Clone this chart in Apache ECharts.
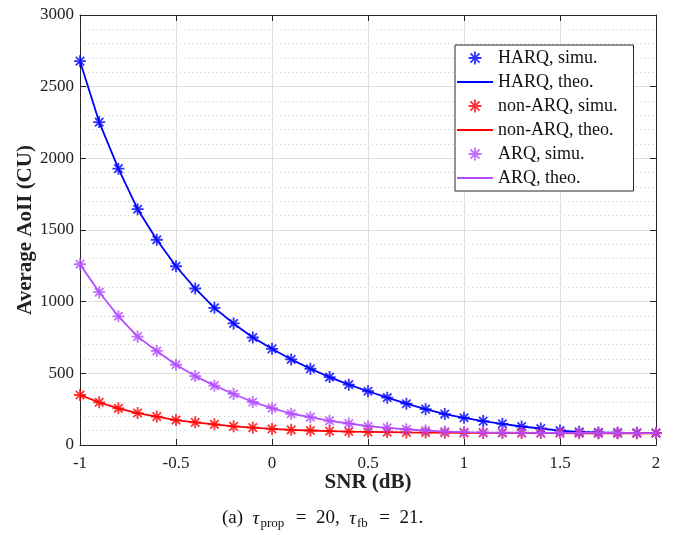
<!DOCTYPE html>
<html>
<head>
<meta charset="utf-8">
<script src="https://cdn.jsdelivr.net/npm/echarts@6/dist/echarts.min.js"></script>
<style>html,body{margin:0;padding:0;background:#fff;}#c{width:677px;height:535px;}</style>
</head>
<body>
<div id="c"></div>
<script>
const snr = [-1,-0.9,-0.8,-0.7,-0.6,-0.5,-0.4,-0.3,-0.2,-0.1,0,0.1,0.2,0.3,0.4,0.5,0.6,0.7,0.8,0.9,1,1.1,1.2,1.3,1.4,1.5,1.6,1.7,1.8,1.9,2];
const harq = [2678,2253,1928,1645,1432,1247,1092,957,848,750,671,597,532,474,421,375,330,288,250,216,190,167,148,129,115,101,92,88,86,85,84];
const nonArq = [349,298,256,223,198,174,158,144,130,121,112,106,101,97,94,92,90,88,87,86,85,84,84,83,83,83,82,82,82,82,82];
const arq = [1261,1066,898,756,656,560,481,414,356,300,257,218,194,169,150,131,120,110,101,94,90,88,87,86,85,85,84,84,84,83,83];
const seriesNames = ['HARQ','non-ARQ','ARQ'];
const seriesColors = ['#0000ff','#ff0000','#b34dff'];
const xTicks = {min:-1, max:2, step:0.5};
const yTicks = {min:0, max:3000, step:500};

const FONT = '"Liberation Serif", "Times New Roman", serif';
const AX = '#262626';
const star = 'path://M0,-10L0,10M-10,0L10,0M-7,-7L7,7M-7,7L7,-7';
const values = [harq, nonArq, arq];
const series = [];
const legendData = [];
values.forEach((v, i) => {
  const pts = snr.map((x, k) => [x, v[k]]);
  const c = seriesColors[i];
  series.push({
    name: seriesNames[i] + ', simu.', type: 'scatter', data: pts,
    symbol: star, symbolSize: 12, symbolKeepAspect: true,
    itemStyle: {color: c, borderColor: c, borderWidth: 1.8},
    emphasis: {disabled: true}, z: 3 + i * 2
  });
  series.push({
    name: seriesNames[i] + ', theo.', type: 'line', data: pts,
    symbol: 'none', showSymbol: false,
    lineStyle: {color: c, width: 1.8}, itemStyle: {color: c},
    emphasis: {disabled: true}, z: 2 + i * 2
  });
  legendData.push({name: seriesNames[i] + ', simu.', icon: star, itemStyle: {color: c, borderColor: c, borderWidth: 1.8}});
  legendData.push({name: seriesNames[i] + ', theo.', icon: 'path://M0,0L36,0L36,1.8L0,1.8Z', itemStyle: {color: c}});
});

const chart = echarts.init(document.getElementById('c'), null, {renderer: 'canvas'});
chart.setOption({
  animation: false,
  backgroundColor: '#fff',
  grid: {left: 80, right: 21, top: 15, bottom: 90},
  xAxis: [{
    type: 'value', min: xTicks.min, max: xTicks.max, interval: xTicks.step,
    name: 'SNR (dB)', nameLocation: 'middle', nameGap: 27, nameMoveOverlap: false,
    nameTextStyle: {fontFamily: FONT, fontSize: 21, fontWeight: 'bold', color: '#222'},
    axisLine: {show: true, onZero: false, lineStyle: {color: AX, width: 1}},
    axisTick: {show: true, inside: true, length: 6, lineStyle: {color: AX}},
    axisLabel: {fontFamily: FONT, fontSize: 17, color: '#222', margin: 10, formatter: v => String(v)},
    splitLine: {show: true, lineStyle: {color: '#dedede', width: 1}}
  }, {
    type: 'value', position: 'top', min: xTicks.min, max: xTicks.max, interval: xTicks.step,
    axisLine: {show: true, onZero: false, lineStyle: {color: AX, width: 1}},
    axisTick: {show: true, inside: true, length: 6, lineStyle: {color: AX}},
    axisLabel: {show: false}, splitLine: {show: false}
  }],
  yAxis: [{
    type: 'value', min: yTicks.min, max: yTicks.max, interval: yTicks.step,
    name: 'Average AoII (CU)', nameLocation: 'middle', nameGap: 44, nameMoveOverlap: false,
    nameTextStyle: {fontFamily: FONT, fontSize: 21, fontWeight: 'bold', color: '#222'},
    axisLine: {show: true, onZero: false, lineStyle: {color: AX, width: 1}},
    axisTick: {show: true, inside: true, length: 6, lineStyle: {color: AX}},
    axisLabel: {fontFamily: FONT, fontSize: 17, color: '#222', margin: 6, formatter: v => String(v)},
    splitLine: {show: true, lineStyle: {color: '#dedede', width: 1}},
    minorTick: {show: false, splitNumber: 5},
    minorSplitLine: {show: true, lineStyle: {color: '#d0d0d0', width: 1, type: [1, 3]}}
  }, {
    type: 'value', position: 'right', min: yTicks.min, max: yTicks.max, interval: yTicks.step,
    axisLine: {show: true, onZero: false, lineStyle: {color: AX, width: 1}},
    axisTick: {show: true, inside: true, length: 6, lineStyle: {color: AX}},
    axisLabel: {show: false}, splitLine: {show: false}
  }],
  legend: {
    orient: 'vertical', left: 455, top: 45,
    data: legendData,
    itemWidth: 36, itemHeight: 13, itemGap: 6,
    padding: [4, 16, 4, 2],
    borderColor: AX, borderWidth: 1, backgroundColor: '#fff',
    textStyle: {fontFamily: FONT, fontSize: 18, color: '#111', lineHeight: 18},
    selectedMode: false
  },
  graphic: [{
    type: 'text', left: 222, top: 507,
    style: {
      text: '(a)  {i|τ}{s|prop}  =  20,  {i|τ}{s|fb}  =  21.',
      font: '19px ' + FONT, fill: '#111', lineHeight: 23,
      rich: {
        i: {fontFamily: FONT, fontSize: 19, fontStyle: 'italic', lineHeight: 23},
        s: {fontFamily: FONT, fontSize: 13, lineHeight: 13, verticalAlign: 'bottom', padding: [0, 2, 0, 1]}
      }
    }
  }],
  series: series
});
</script>
</body>
</html>
